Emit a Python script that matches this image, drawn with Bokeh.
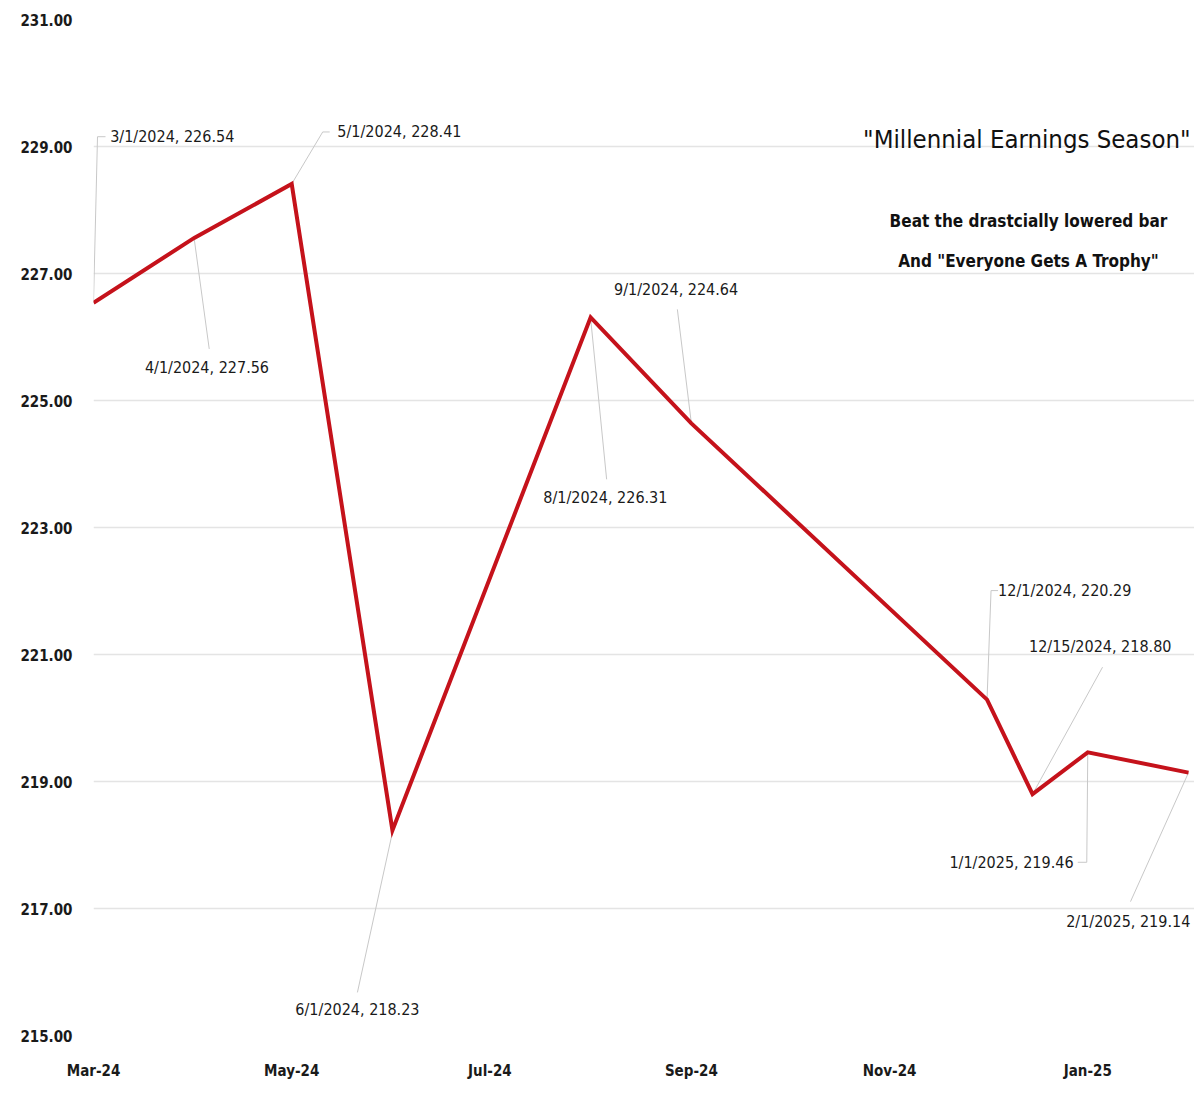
from datetime import datetime, timezone
from bokeh.plotting import figure
from bokeh.models import (ColumnDataSource, FixedTicker, DatetimeTickFormatter, Range1d,
                          Label, NumeralTickFormatter)
from bokeh.core.properties import value
from bokeh.embed import file_html
from bokeh.resources import INLINE

# ---------------- data ----------------
dates = ["2024-03-01", "2024-04-01", "2024-05-01", "2024-06-01", "2024-08-01",
         "2024-09-01", "2024-12-01", "2024-12-15", "2025-01-01", "2025-02-01"]
values = [226.54, 227.56, 228.41, 218.23, 226.31, 224.64, 220.29, 218.80, 219.46, 219.14]
point_labels = ["3/1/2024,  226.54", "4/1/2024,  227.56", "5/1/2024,  228.41",
                "6/1/2024, 218.23", "8/1/2024,  226.31", "9/1/2024,  224.64",
                "12/1/2024,  220.29", "12/15/2024,  218.80", "1/1/2025,  219.46",
                "2/1/2025,  219.14"]
tick_dates = ["2024-03-01", "2024-05-01", "2024-07-01", "2024-09-01", "2024-11-01", "2025-01-01"]
tick_labels = ["Mar-24", "May-24", "Jul-24", "Sep-24", "Nov-24", "Jan-25"]
y_ticks = [215, 217, 219, 221, 223, 225, 227, 229, 231]
title_text = '"Millennial Earnings Season"'
subtitle_lines = ["Beat the drastcially lowered bar", 'And "Everyone Gets A Trophy"']

# ---------------- layout / style ----------------
W, H = 1194, 1095
L, T, B = 93, 19, 60
X_LAST_PX = 1188            # pixel column of the last date
FW = X_LAST_PX - L
FH = H - T - B
FONT = "DejaVu Sans Condensed"
RED = "#C5121B"
LEADER = "#c8c8c8"
TXT = "#1a1a1a"

# label offsets (screen px, relative to point; +y is down) and leader paths
label_offsets = [(81, -166), (15, 130), (110, -52), (-35, 179), (17, 180),
                 (-13, -134), (80, -109), (70, -148), (-74, 110), (-58, 149)]
leader_paths = [[(0, 0), (4, -166), (12, -166)],
                [(0, 1), (15, 111)],
                [(0, 0), (31, -52), (38, -52)],
                [(0, 2), (-35, 162)],
                [(0, 1), (16, 162)],
                [(0, 0), (-14, -114)],
                [(0, 0), (4, -109), (11, -109)],
                [(0, 0), (70, -127)],
                [(0, 0), (-1, 110), (-10, 110)],
                [(0, 0), (-58, 129)]]


def ms(s):
    return datetime.strptime(s, "%Y-%m-%d").replace(tzinfo=timezone.utc).timestamp() * 1000.0


xs = [ms(d) for d in dates]
x0, x1 = xs[0], xs[-1]
y0, y1 = y_ticks[0], y_ticks[-1]


def to_px(x, y):
    return L + (x - x0) / (x1 - x0) * FW, T + (y1 - y) / (y1 - y0) * FH


def to_data(px, py):
    return x0 + (px - L) / FW * (x1 - x0), y1 - (py - T) / FH * (y1 - y0)


x_end = to_data(W, 0)[0]

p = figure(width=W, height=H, x_axis_type="datetime", output_backend="svg",
           toolbar_location=None, x_range=Range1d(x0, x_end), y_range=Range1d(y0, y1),
           min_border_left=L, min_border_right=0, min_border_top=T, min_border_bottom=B)
p.outline_line_color = None
p.background_fill_color = "white"
p.border_fill_color = "white"

# grid
p.xgrid.grid_line_color = None
p.ygrid.grid_line_color = "#e4e4e4"
p.ygrid.grid_line_width = 1.5
p.yaxis.ticker = FixedTicker(ticks=y_ticks)
p.yaxis.formatter = NumeralTickFormatter(format="0.00")
p.xaxis.ticker = FixedTicker(ticks=[ms(d) for d in tick_dates])
fmt = "%b-%y"
p.xaxis.formatter = DatetimeTickFormatter(days=fmt, months=fmt, years=fmt, hours=fmt,
                                          hourmin=fmt, minutes=fmt, minsec=fmt, seconds=fmt,
                                          milliseconds=fmt, microseconds=fmt)
for ax in (p.xaxis[0], p.yaxis[0]):
    ax.axis_line_color = None
    ax.major_tick_line_color = None
    ax.minor_tick_line_color = None
    ax.major_tick_out = 0
    ax.major_tick_in = 0
    ax.major_label_text_font = FONT
    ax.major_label_text_font_size = "15px"
    ax.major_label_text_font_style = "bold"
    ax.major_label_text_color = TXT
p.yaxis.major_label_standoff = 21
p.xaxis.major_label_standoff = 26

# leader lines
lx, ly = [], []
for x, y, path in zip(xs, values, leader_paths):
    px, py = to_px(x, y)
    pts = [to_data(px + dx, py + dy) for dx, dy in path]
    lx.append([q[0] for q in pts])
    ly.append([q[1] for q in pts])
p.multi_line(xs=lx, ys=ly, line_color=LEADER, line_width=1)

# main line
src = ColumnDataSource(dict(x=xs, y=values))
p.line("x", "y", source=src, line_color=RED, line_width=4, line_join="miter")

# data labels
tx, ty = [], []
for x, y, (dx, dy) in zip(xs, values, label_offsets):
    px, py = to_px(x, y)
    a, b = to_data(px + dx, py + dy)
    tx.append(a)
    ty.append(b)
lsrc = ColumnDataSource(dict(x=tx, y=ty, t=point_labels))
p.text("x", "y", text="t", source=lsrc, text_font=value(FONT), text_font_size="16px",
       text_align="center", text_baseline="middle", text_color=TXT)

# title and subtitle
tx_, ty_ = to_data(1190, 138)
p.add_layout(Label(x=tx_, y=ty_, text=title_text, text_font=FONT, text_font_size="25.5px",
                   text_align="right", text_baseline="middle", text_color="#111111"))
for i, line in enumerate(subtitle_lines):
    sx, sy = to_data(1028, 220 + 40 * i)
    p.add_layout(Label(x=sx, y=sy, text=line, text_font=FONT, text_font_size="17px",
                       text_font_style="bold", text_align="center", text_baseline="middle",
                       text_color="#111111"))

open("out.html", "w").write(file_html(p, INLINE))
